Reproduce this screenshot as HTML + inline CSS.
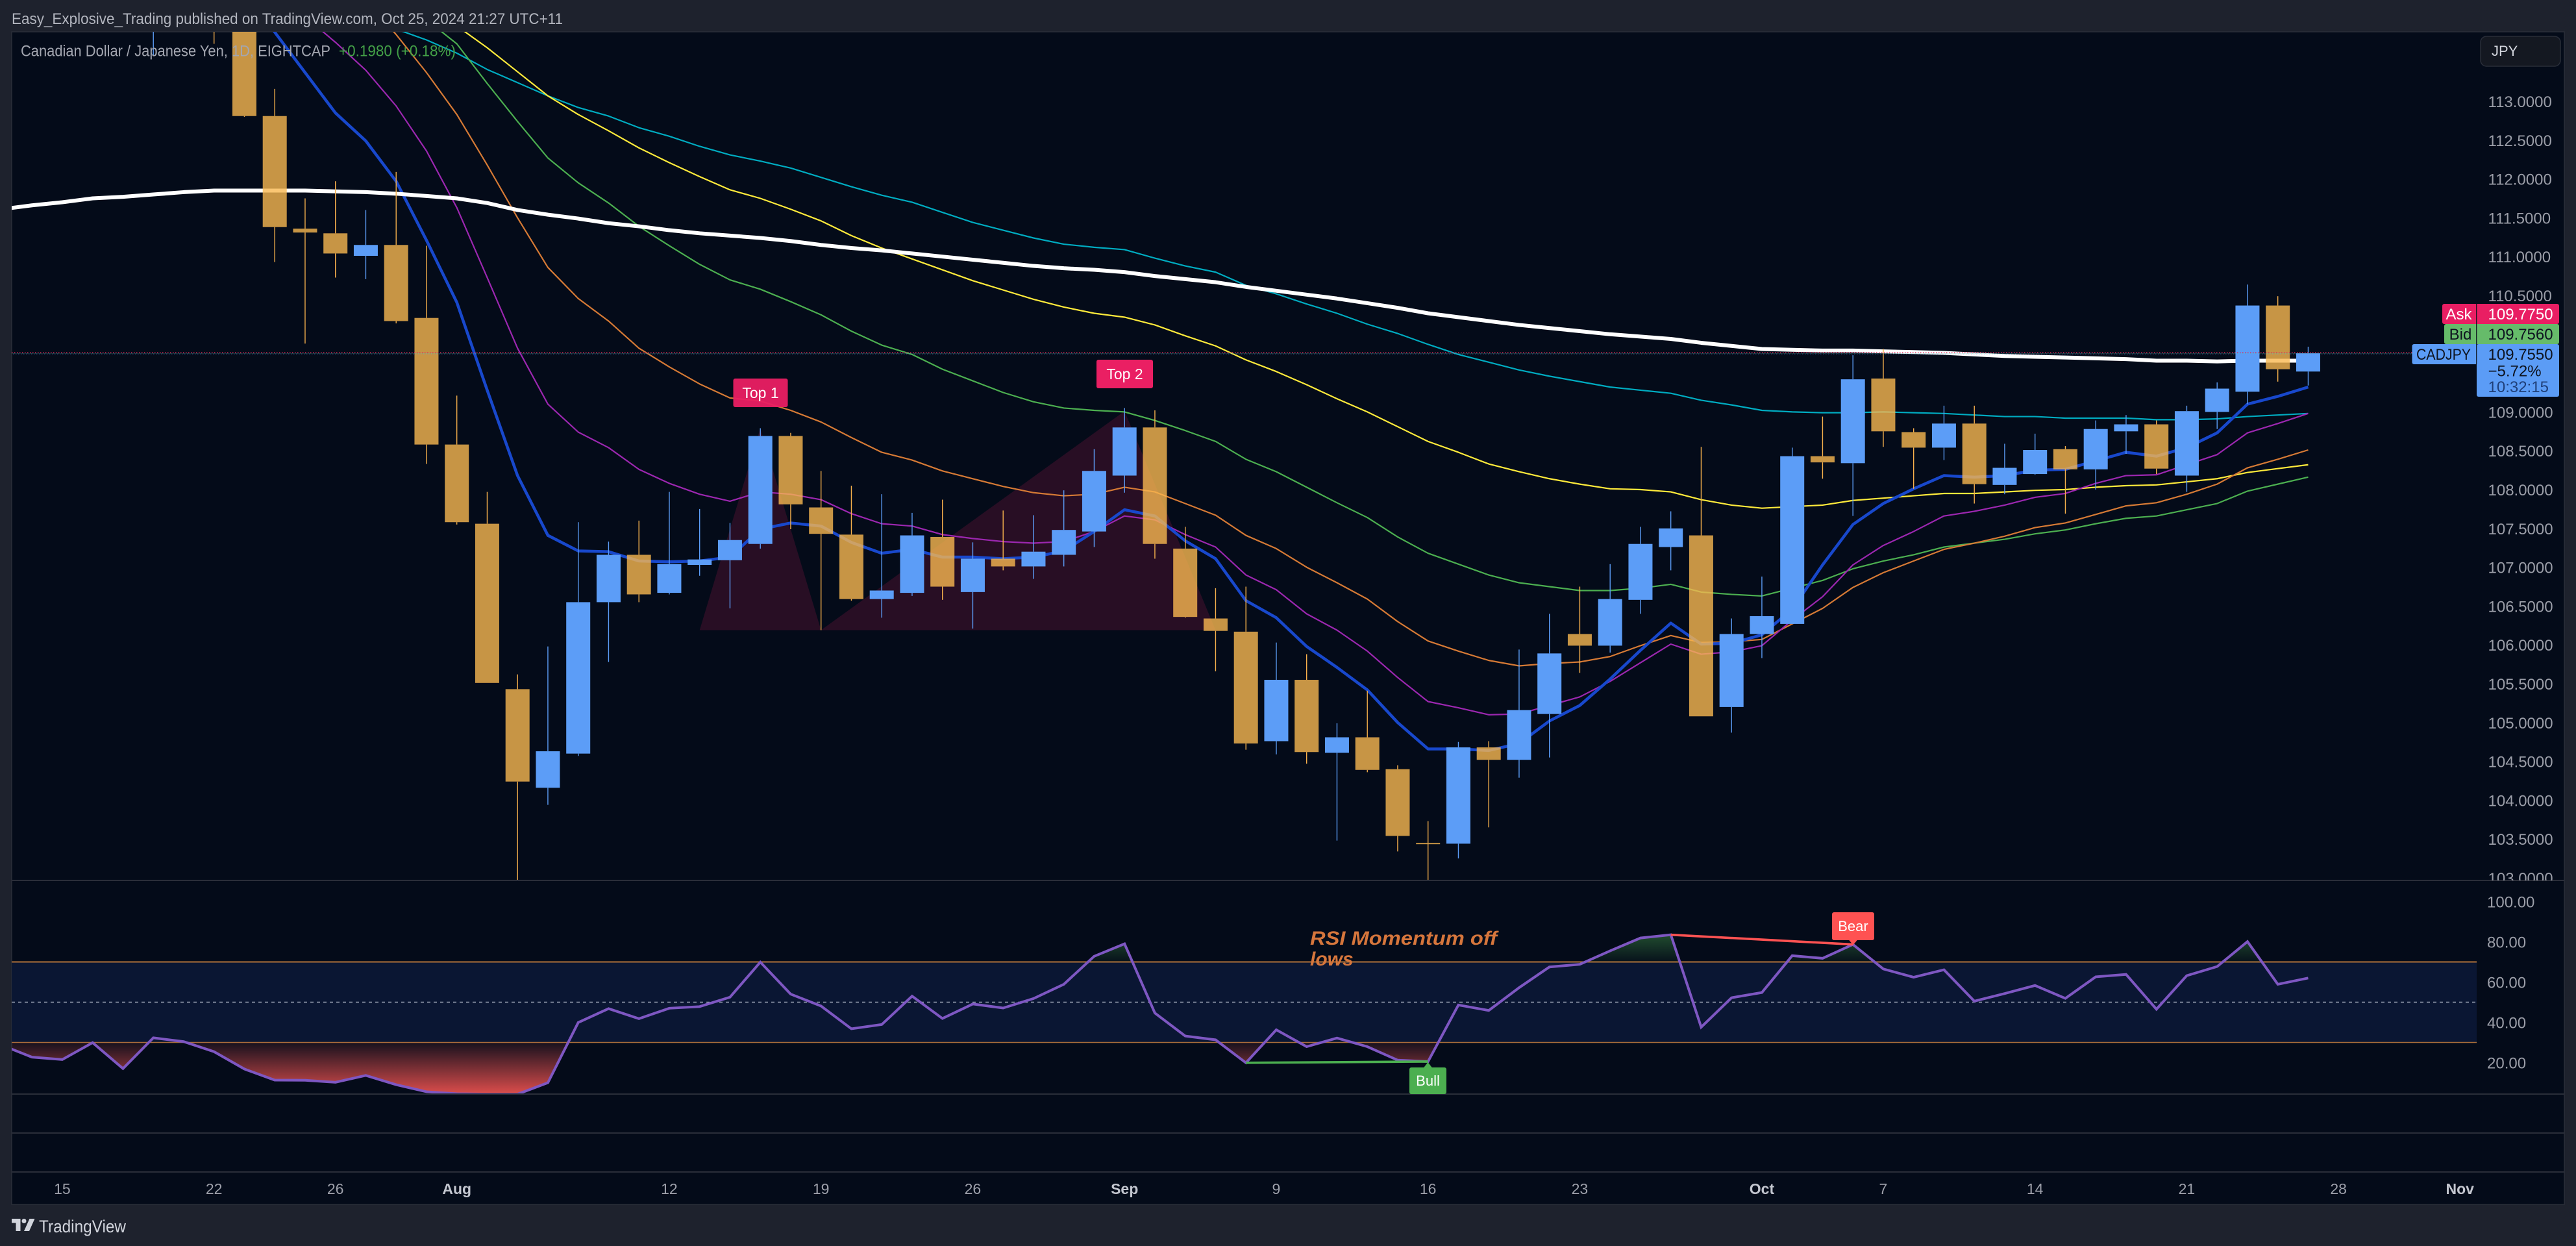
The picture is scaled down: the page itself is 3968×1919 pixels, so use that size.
<!DOCTYPE html>
<html lang="en">
<head>
<meta charset="utf-8">
<title>CADJPY chart</title>
<style>
html,body{margin:0;padding:0;background:#1e222d;width:3968px;height:1919px;overflow:hidden}
svg{display:block;font-family:"Liberation Sans",sans-serif}
</style>
</head>
<body>
<svg id="chart" xmlns="http://www.w3.org/2000/svg" width="3968" height="1919" viewBox="0 0 3968 1919">
  <defs>
    <clipPath id="priceClip"><rect x="18" y="49" width="3797" height="1307"/></clipPath>
    <clipPath id="priceAxisClip"><rect x="3815" y="49" width="135" height="1307"/></clipPath>
    <clipPath id="rsiClip"><rect x="18" y="1357" width="3797" height="328"/></clipPath>
    <clipPath id="rsiLowClip"><rect x="18" y="1605.5" width="3797" height="80"/></clipPath>
    <clipPath id="rsiHighClip"><rect x="18" y="1357" width="3797" height="124.5"/></clipPath>
    <linearGradient id="lowGrad" gradientUnits="userSpaceOnUse" x1="0" y1="1605.5" x2="0" y2="1685">
      <stop offset="0" stop-color="#ef5350" stop-opacity="0.08"/>
      <stop offset="1" stop-color="#ef5350" stop-opacity="0.92"/>
    </linearGradient>
    <linearGradient id="highGrad" gradientUnits="userSpaceOnUse" x1="0" y1="1481.5" x2="0" y2="1437">
      <stop offset="0" stop-color="#4caf50" stop-opacity="0.04"/>
      <stop offset="1" stop-color="#4caf50" stop-opacity="0.42"/>
    </linearGradient>
  </defs>

  <rect x="0" y="0" width="3968" height="1919" fill="#1e222d"/>
  <text x="18" y="37" font-size="24" fill="#b2b5be" textLength="849" lengthAdjust="spacingAndGlyphs">Easy_Explosive_Trading published on TradingView.com, Oct 25, 2024 21:27 UTC+11</text>
  <rect x="18" y="49" width="3932" height="1806" fill="#040b19" stroke="#2a2e39" stroke-width="1.5"/>

  <rect x="18" y="1481.5" width="3797" height="124" fill="#0a1633"/>
  <line x1="18" x2="3815" y1="1543.5" y2="1543.5" stroke="#9ca3b5" stroke-width="1.5" stroke-dasharray="5 5"/>
  <line x1="18" x2="3815" y1="1481.5" y2="1481.5" stroke="#b0723a" stroke-width="2"/>
  <line x1="18" x2="3815" y1="1605.5" y2="1605.5" stroke="#a86d3a" stroke-width="1.5"/>

  <g id="patternLayer" clip-path="url(#priceClip)"></g>
  <g id="lineLayer" clip-path="url(#priceClip)"></g>
  <g id="candleLayer" clip-path="url(#priceClip)"></g>

  <line x1="18" x2="3762" y1="542.5" y2="542.5" stroke="#e91e63" stroke-width="1" stroke-dasharray="1.5 2.5"/>
  <line x1="18" x2="3765" y1="544.2" y2="544.2" stroke="#66bb6a" stroke-width="1" stroke-dasharray="1.5 2.5" stroke-opacity="0.5"/>
  <line x1="18" x2="3715" y1="545" y2="545" stroke="#5b9cf6" stroke-width="1" stroke-dasharray="1.5 2.5" stroke-dashoffset="2" stroke-opacity="0.7"/>

  <g id="rsiLayer"></g>

  <line x1="18" x2="3950" y1="1356" y2="1356" stroke="#2a2e39" stroke-width="2"/>
  <line x1="18" x2="3950" y1="1685" y2="1685" stroke="#2a2e39" stroke-width="2"/>
  <line x1="18" x2="3950" y1="1745" y2="1745" stroke="#2a2e39" stroke-width="2"/>
  <line x1="18" x2="3950" y1="1805" y2="1805" stroke="#2a2e39" stroke-width="2"/>

  <text x="32" y="86.5" font-size="24" fill="#a3a6b0" textLength="477" lengthAdjust="spacingAndGlyphs">Canadian Dollar / Japanese Yen, 1D, EIGHTCAP</text>
  <text x="522" y="86.5" font-size="24" fill="#43a047" textLength="180" lengthAdjust="spacingAndGlyphs">+0.1980 (+0.18%)</text>

  <g>
    <rect x="1129.5" y="583" width="84" height="44" rx="3" fill="#ea1f63" fill-opacity="0.95"/>
    <text x="1171.5" y="613" font-size="23" fill="#ffffff" text-anchor="middle">Top 1</text>
  </g>
  <g>
    <rect x="1689" y="554" width="87" height="44" rx="3" fill="#ea1f63"/>
    <text x="1732.5" y="584" font-size="23" fill="#ffffff" text-anchor="middle">Top 2</text>
  </g>

  <g>
    <path d="M2199.5 1636 L2206.5 1645 L2192.5 1645 Z" fill="#4caf50"/>
    <rect x="2171" y="1644" width="57" height="41" rx="3" fill="#4caf50"/>
    <text x="2199.5" y="1672" font-size="22" fill="#ffffff" text-anchor="middle">Bull</text>
  </g>
  <g>
    <path d="M2854.5 1455.5 L2861.5 1447 L2847.5 1447 Z" fill="#ff5252"/>
    <rect x="2822" y="1405" width="65" height="43" rx="3" fill="#ff5252"/>
    <text x="2854.5" y="1434" font-size="22" fill="#ffffff" text-anchor="middle">Bear</text>
  </g>
  <g font-size="30" font-weight="bold" font-style="italic" fill="#d6763c">
    <text x="2018" y="1455" textLength="288" lengthAdjust="spacingAndGlyphs">RSI Momentum off</text>
    <text x="2018" y="1487">lows</text>
  </g>

  <g id="priceAxis" clip-path="url(#priceAxisClip)"></g>
  <g id="rsiAxis"></g>
  <g id="timeAxis"></g>

  <g>
    <rect x="3762" y="468" width="180" height="31" rx="3" fill="#e91e63"/>
    <text x="3787.5" y="492" font-size="24" fill="#ffffff" text-anchor="middle">Ask</text>
    <text x="3832.5" y="492" font-size="24" fill="#ffffff">109.7750</text>
  </g>
  <g>
    <rect x="3765" y="499" width="177" height="31" rx="3" fill="#66bb6a"/>
    <text x="3790" y="523" font-size="24" fill="#0e1420" text-anchor="middle">Bid</text>
    <text x="3832.5" y="523" font-size="24" fill="#0e1420">109.7560</text>
  </g>
  <g>
    <rect x="3715.5" y="530" width="102" height="31" rx="3" fill="#5b9cf6"/>
    <rect x="3815" y="530" width="127" height="81" rx="3" fill="#5b9cf6"/>
    <text x="3722" y="554" font-size="24" fill="#0e1420" textLength="84" lengthAdjust="spacingAndGlyphs">CADJPY</text>
    <text x="3832.5" y="554" font-size="24" fill="#0e1420">109.7550</text>
    <text x="3832.5" y="579.5" font-size="24" fill="#0e1420">−5.72%</text>
    <text x="3832.5" y="604" font-size="24" fill="#1f3f78">10:32:15</text>
  </g>
  <line x1="3814.7" x2="3814.7" y1="468" y2="561" stroke="#0e1420" stroke-width="1.2"/>

  <g>
    <rect x="3821" y="56" width="123" height="46" rx="9" fill="#141821" stroke="#2a2e39" stroke-width="1.5"/>
    <text x="3838" y="86" font-size="22" fill="#d1d4dc">JPY</text>
  </g>

  <g fill="#d1d4dc">
    <path d="M18 1877 H31.5 V1896 H24.5 V1883.5 H18 Z"/>
    <circle cx="37" cy="1880.5" r="3.5"/>
    <path d="M45.5 1877 H53.5 L45 1896 H37 Z"/>
    <text x="60" y="1898" font-size="27" textLength="134" lengthAdjust="spacingAndGlyphs">TradingView</text>
  </g>
</svg>

<script>
const opens = [115.9,115.7,116.0,115.8,115.5,114.9,115.2,115.0,114.4,112.81,111.36,111.30,111.01,111.15,110.21,108.58,107.56,105.43,104.16,104.60,106.55,107.16,106.67,107.03,107.09,107.30,108.69,107.77,107.42,106.59,106.67,107.39,106.68,107.11,107.01,107.16,107.46,108.18,108.80,107.24,106.34,106.17,104.76,105.55,104.61,104.81,104.40,103.45,103.44,104.68,104.52,105.11,106.14,105.99,106.58,107.26,107.41,105.20,106.14,106.27,108.43,108.34,109.43,108.74,108.54,108.85,108.06,108.20,108.52,108.26,108.75,108.84,108.18,109.00,109.26,110.37,109.52];
const highs = [116.2,116.3,116.4,116.1,115.9,115.4,115.5,115.3,114.6,113.16,111.75,111.97,111.60,112.09,111.14,109.21,107.97,105.62,105.98,107.58,107.33,107.60,107.97,107.75,107.57,108.79,108.73,108.24,108.05,107.94,107.70,107.87,107.32,107.73,107.67,107.99,108.52,109.05,109.02,107.52,106.73,106.75,106.03,105.88,104.99,105.41,104.45,103.73,104.75,104.76,105.94,106.40,106.75,107.04,107.52,107.72,108.55,106.34,106.88,108.54,108.94,109.73,109.81,108.79,109.08,109.08,108.59,108.72,108.56,108.89,108.96,108.89,109.08,109.38,110.64,110.49,109.84];
const lows = [115.5,115.4,115.6,115.3,115.1,113.58,114.9,113.74,112.80,110.93,109.88,110.73,110.71,110.14,108.33,107.55,105.51,102.97,103.94,104.57,105.78,106.55,106.65,106.89,106.47,107.24,107.49,106.19,106.57,106.35,106.63,106.58,106.21,106.96,106.85,107.01,107.26,107.96,107.11,106.35,105.66,104.65,104.59,104.47,103.48,104.36,103.34,102.97,103.25,103.65,104.29,104.55,105.64,105.90,106.40,106.96,105.08,104.87,105.83,106.27,108.14,107.66,108.55,108.01,108.38,107.82,107.94,108.19,107.69,108.00,108.46,108.20,107.97,108.78,109.10,109.39,109.34];
const closes = [115.7,116.0,115.8,115.5,115.2,115.2,115.0,114.4,112.81,111.38,111.31,111.04,111.15,110.17,108.58,107.58,105.51,104.24,104.63,106.55,107.16,106.65,107.04,107.10,107.35,108.69,107.81,107.43,106.59,106.70,107.41,106.75,107.11,107.01,107.20,107.48,108.24,108.80,107.30,106.36,106.18,104.73,105.55,104.62,104.81,104.39,103.54,103.44,104.68,104.52,105.16,105.89,105.99,106.59,107.30,107.50,105.08,106.14,106.37,108.43,108.35,109.42,108.75,108.54,108.85,108.07,108.28,108.51,108.26,108.78,108.84,108.27,109.01,109.30,110.37,109.55,109.755];

const emaBlue = [116.3,116.2,116.1,116.0,115.9,115.7,115.5,115.0,114.47,113.89,113.37,112.85,112.49,111.97,111.21,110.41,109.28,108.18,107.41,107.21,107.20,107.08,107.07,107.08,107.13,107.49,107.57,107.53,107.32,107.18,107.23,107.13,107.13,107.11,107.13,107.21,107.46,107.74,107.66,107.34,107.11,106.57,106.35,105.98,105.71,105.42,105.00,104.66,104.66,104.64,104.73,105.02,105.22,105.56,105.93,106.28,106.01,106.02,106.13,106.46,107.03,107.55,107.82,108.01,108.18,108.16,108.18,108.25,108.26,108.37,108.48,108.43,108.54,108.73,109.10,109.20,109.32];
const emaPurple = [117.0,116.9,116.8,116.6,116.4,116.2,116.0,115.7,115.3,114.7,114.09,113.76,113.40,112.94,112.36,111.63,110.73,109.82,109.10,108.74,108.54,108.26,108.08,107.94,107.85,107.97,107.94,107.87,107.69,107.56,107.53,107.42,107.37,107.33,107.31,107.33,107.46,107.66,107.61,107.42,107.26,106.90,106.71,106.40,106.19,105.92,105.58,105.27,105.19,105.10,105.11,105.22,105.33,105.53,105.77,106.01,105.88,105.91,105.99,106.32,106.62,107.03,107.28,107.46,107.66,107.72,107.80,107.90,107.95,108.08,108.18,108.19,108.32,108.45,108.73,108.85,108.98];
const emaOrange = [117.2,117.1,117.0,116.9,116.8,116.6,116.4,116.2,116.0,115.7,115.4,114.9,114.3,113.86,113.37,112.83,112.18,111.50,110.86,110.46,110.17,109.82,109.58,109.36,109.18,109.14,109.02,108.87,108.67,108.48,108.38,108.24,108.14,108.04,107.96,107.92,107.94,108.03,107.97,107.82,107.67,107.41,107.24,107.00,106.80,106.59,106.30,106.05,105.92,105.80,105.73,105.76,105.78,105.85,105.99,106.12,106.03,106.04,106.07,106.27,106.47,106.74,106.93,107.08,107.23,107.31,107.40,107.51,107.57,107.68,107.79,107.83,107.94,108.07,108.28,108.39,108.51];
const emaGreen = [117.4,117.3,117.2,117.1,117.0,116.9,116.7,116.5,116.3,116.0,115.7,115.4,115.0,114.5,114.05,113.74,113.23,112.74,112.27,111.95,111.69,111.39,111.14,110.90,110.70,110.58,110.42,110.25,110.04,109.86,109.74,109.55,109.40,109.25,109.13,109.05,109.02,109.00,108.89,108.76,108.62,108.39,108.23,108.03,107.83,107.64,107.39,107.18,107.04,106.90,106.80,106.75,106.70,106.70,106.73,106.78,106.68,106.65,106.63,106.73,106.83,106.98,107.08,107.16,107.26,107.31,107.36,107.43,107.48,107.56,107.63,107.66,107.74,107.82,107.98,108.07,108.16];
const emaYellow = [117.3,117.2,117.1,117.0,116.9,116.7,116.5,116.3,116.1,115.8,115.5,115.2,114.9,114.5,114.2,113.97,113.69,113.38,113.07,112.83,112.62,112.40,112.21,112.03,111.86,111.75,111.61,111.46,111.27,111.11,110.97,110.83,110.69,110.57,110.45,110.35,110.27,110.22,110.12,109.98,109.85,109.67,109.52,109.35,109.17,109.00,108.81,108.62,108.48,108.33,108.23,108.14,108.07,108.01,108.00,107.97,107.87,107.80,107.76,107.78,107.80,107.86,107.89,107.92,107.95,107.95,107.97,107.99,108.00,108.03,108.05,108.06,108.10,108.14,108.22,108.27,108.32];
const emaTeal = [116.4,116.3,116.2,116.1,116.0,115.8,115.6,115.4,115.2,115.0,114.7,114.4,114.1,113.93,113.79,113.62,113.41,113.24,113.07,112.92,112.81,112.66,112.55,112.42,112.31,112.23,112.14,112.02,111.90,111.79,111.70,111.57,111.44,111.34,111.24,111.16,111.12,111.09,110.98,110.88,110.80,110.63,110.52,110.39,110.27,110.13,110.01,109.87,109.74,109.64,109.54,109.46,109.39,109.32,109.28,109.24,109.15,109.09,109.02,109.00,108.99,108.99,109.00,108.99,108.98,108.96,108.94,108.94,108.92,108.92,108.92,108.90,108.90,108.91,108.94,108.96,108.98];
const maWhite = [111.61,111.66,111.70,111.75,111.77,111.80,111.83,111.85,111.85,111.85,111.85,111.84,111.83,111.81,111.78,111.75,111.69,111.60,111.54,111.49,111.43,111.39,111.34,111.30,111.27,111.24,111.20,111.15,111.11,111.08,111.04,111.00,110.96,110.92,110.88,110.85,110.83,110.80,110.75,110.71,110.67,110.61,110.56,110.51,110.46,110.40,110.34,110.27,110.22,110.17,110.12,110.08,110.04,110.00,109.97,109.94,109.89,109.85,109.81,109.80,109.79,109.79,109.78,109.77,109.76,109.74,109.72,109.71,109.70,109.69,109.68,109.66,109.66,109.65,109.66,109.66,109.66];

const rsiValues = [28.7,22.7,21.5,29.9,17,32.3,30.4,25.4,16.8,11.3,11.2,10.2,13.6,9,5.5,4.5,4.3,4.3,10,39.9,46.8,41.8,47,47.8,52.5,69.9,54,48.1,36.8,38.9,53,41.9,49.1,47.1,51.8,58.9,72.8,79,44.6,33.2,31.3,19.9,36.3,27.9,32.2,27.9,21.2,20.5,48.6,45.9,57.2,67.5,68.8,75.5,81.9,83.5,37.6,52.2,54.8,73.1,71.8,78.7,66.5,62.4,66.1,50.5,54.3,58.3,51.9,62.6,63.8,46.5,63.2,67.7,80.1,58.9,62];

const patternBars = [23,25,27,37,40];
const patternPrices = [106.19,108.79,106.19,109.01,106.19];

const priceTicks = [113,112.5,112,111.5,111,110.5,110,109.5,109,108.5,108,107.5,107,106.5,106,105.5,105,104.5,104,103.5,103];
const rsiTicks = [100,80,60,40,20];
const timeTickBars = [2,7,11,15,22,27,32,37,42,47,52,58,62,67,72,77,81];
const timeTickLabels = ['15','22','26','Aug','12','19','26','Sep','9','16','23','Oct','7','14','21','28','Nov'];

const SVG_NS = 'http://www.w3.org/2000/svg';
const xAt = function (i) { return 2.45 + 46.75 * i; };
const yPrice = function (p) { return 754 - (p - 108) * 119.6; };
const yRsi = function (v) { return 1543.5 - (v - 50) * 3.1; };

function make(tag, attrs, parent) {
  const node = document.createElementNS(SVG_NS, tag);
  for (const key in attrs) { node.setAttribute(key, attrs[key]); }
  parent.appendChild(node);
  return node;
}
function linePoints(values, yFn) {
  return values.map(function (v, i) { return xAt(i).toFixed(2) + ',' + yFn(v).toFixed(2); }).join(' ');
}

const patternLayer = document.getElementById('patternLayer');
const patternPts = patternBars.map(function (b, k) { return xAt(b).toFixed(2) + ',' + yPrice(patternPrices[k]).toFixed(2); }).join(' ');
const patternShape = make('polygon', { points: patternPts, fill: '#e91e63', 'fill-opacity': 0.16 }, patternLayer);



const lineLayer = document.getElementById('lineLayer');
const tealLine = make('polyline', { points: linePoints(emaTeal, yPrice), fill: 'none', stroke: '#00acc1', 'stroke-width': 2.2, 'stroke-linejoin': 'round' }, lineLayer);


const yellowLine = make('polyline', { points: linePoints(emaYellow, yPrice), fill: 'none', stroke: '#ffeb3b', 'stroke-width': 2.2, 'stroke-linejoin': 'round' }, lineLayer);


const greenLine = make('polyline', { points: linePoints(emaGreen, yPrice), fill: 'none', stroke: '#4caf50', 'stroke-width': 2.2, 'stroke-linejoin': 'round' }, lineLayer);


const orangeLine = make('polyline', { points: linePoints(emaOrange, yPrice), fill: 'none', stroke: '#d67a35', 'stroke-width': 2.2, 'stroke-linejoin': 'round' }, lineLayer);


const purpleLine = make('polyline', { points: linePoints(emaPurple, yPrice), fill: 'none', stroke: '#9c27b0', 'stroke-width': 2.2, 'stroke-linejoin': 'round' }, lineLayer);


const blueLine = make('polyline', { points: linePoints(emaBlue, yPrice), fill: 'none', stroke: '#1848cc', 'stroke-width': 4.5, 'stroke-linejoin': 'round' }, lineLayer);


const whiteLine = make('polyline', { points: linePoints(maWhite, yPrice), fill: 'none', stroke: '#ffffff', 'stroke-width': 6, 'stroke-linejoin': 'round' }, lineLayer);



const candleLayer = document.getElementById('candleLayer');
const UP_COLOR = '#5c9df7';
const DOWN_BODY = 'rgba(249,184,80,0.8)';
const DOWN_WICK = '#f5b04c';
opens.forEach(function (open, i) {
  const close = closes[i];
  const up = close >= open;
  const cx = xAt(i);
  const top = yPrice(Math.max(open, close));
  const bottom = yPrice(Math.min(open, close));
  const upperWick = make('line', { x1: cx, x2: cx, y1: yPrice(highs[i]), y2: top, stroke: up ? UP_COLOR : DOWN_WICK, 'stroke-width': 1.4 }, candleLayer);
  
  
  const lowerWick = make('line', { x1: cx, x2: cx, y1: bottom, y2: yPrice(lows[i]), stroke: up ? UP_COLOR : DOWN_WICK, 'stroke-width': 1.4 }, candleLayer);
  
  
  const body = make('rect', { x: cx - 18.5, y: top, width: 37, height: Math.max(2, bottom - top), fill: up ? UP_COLOR : DOWN_BODY }, candleLayer);
  
  
});

const rsiLayer = document.getElementById('rsiLayer');
const rsiPts = linePoints(rsiValues, yRsi);
const firstX = xAt(0).toFixed(2);
const lastX = xAt(rsiValues.length - 1).toFixed(2);
const lowFill = make('polygon', { points: firstX + ',' + yRsi(30) + ' ' + rsiPts + ' ' + lastX + ',' + yRsi(30), fill: 'url(#lowGrad)', 'clip-path': 'url(#rsiLowClip)' }, rsiLayer);


const highFill = make('polygon', { points: firstX + ',' + yRsi(70) + ' ' + rsiPts + ' ' + lastX + ',' + yRsi(70), fill: 'url(#highGrad)', 'clip-path': 'url(#rsiHighClip)' }, rsiLayer);


const rsiLine = make('polyline', { points: rsiPts, fill: 'none', stroke: '#7e57c2', 'stroke-width': 4, 'stroke-linejoin': 'miter', 'clip-path': 'url(#rsiClip)' }, rsiLayer);


const bullLine = make('line', { x1: xAt(41), x2: xAt(47), y1: yRsi(rsiValues[41]), y2: yRsi(rsiValues[47]), stroke: '#4caf50', 'stroke-width': 3.6 }, rsiLayer);


const bearLine = make('line', { x1: xAt(55), x2: xAt(61), y1: yRsi(rsiValues[55]), y2: yRsi(rsiValues[61]), stroke: '#ff5252', 'stroke-width': 3.6 }, rsiLayer);



const priceAxis = document.getElementById('priceAxis');
priceTicks.forEach(function (p) {
  const label = make('text', { x: 3832.5, y: yPrice(p) + 9, 'font-size': 24, fill: '#9b9ea8' }, priceAxis);
  label.textContent = p.toFixed(4);
  
  
});

const rsiAxis = document.getElementById('rsiAxis');
rsiTicks.forEach(function (v) {
  const label = make('text', { x: 3831, y: yRsi(v) + 9, 'font-size': 24, fill: '#9b9ea8' }, rsiAxis);
  label.textContent = v.toFixed(2);
  
  
});

const timeAxis = document.getElementById('timeAxis');
timeTickBars.forEach(function (b, k) {
  const text = timeTickLabels[k];
  const isMonth = /[A-Za-z]/.test(text);
  const label = make('text', { x: xAt(b), y: 1839, 'font-size': 23, 'text-anchor': 'middle', fill: isMonth ? '#c3c6cf' : '#9ea1ab', 'font-weight': isMonth ? 'bold' : 'normal' }, timeAxis);
  label.textContent = text;
  
  
});
</script>
</body>
</html>
